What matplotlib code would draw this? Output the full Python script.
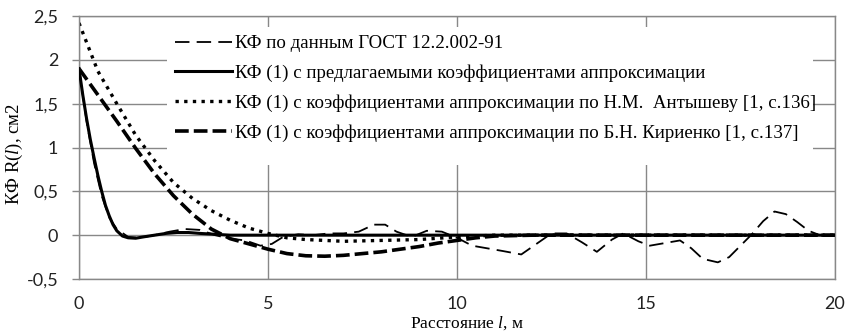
import matplotlib
matplotlib.use("Agg")
import matplotlib.pyplot as plt
from matplotlib.patches import Rectangle

plt.rcParams["mathtext.fontset"] = "custom"
plt.rcParams["mathtext.rm"] = "Liberation Serif"
plt.rcParams["mathtext.it"] = "Liberation Serif:italic"

# ГОСТ 12.2.002-91 data
x_gost = [0, 0.2, 0.4, 0.6, 0.8, 1.0, 1.3, 1.6, 2.0, 2.4, 2.8, 3.2, 3.6, 4.0, 4.4,
          4.8, 5.1, 5.4, 5.8, 6.2, 6.6, 7.0, 7.4, 7.8, 8.1, 8.4, 8.8, 9.2, 9.6,
          10.0, 10.4, 10.8, 11.2, 11.7, 12.1, 12.5, 12.9, 13.3, 13.7, 14.1, 14.4,
          14.8, 15.1, 15.5, 15.9, 16.2, 16.5, 16.9, 17.2, 17.5, 17.8, 18.1, 18.4,
          18.7, 19.0, 19.3, 19.6, 20.0]
y_gost = [1.9, 1.3, 0.82, 0.45, 0.2, 0.07, -0.02, -0.03, 0.0, 0.04, 0.07, 0.06, 0.0,
          -0.04, -0.06, -0.12, -0.1, -0.02, 0.01, 0.0, 0.02, 0.02, 0.04, 0.12, 0.12,
          0.04, -0.02, 0.05, 0.04, -0.03, -0.12, -0.15, -0.18, -0.22, -0.1, 0.02,
          0.02, -0.08, -0.19, -0.05, 0.02, -0.07, -0.12, -0.09, -0.06, -0.15, -0.27,
          -0.31, -0.25, -0.12, 0.01, 0.16, 0.27, 0.24, 0.15, 0.05, 0.0, 0.0]

# KF (1), proposed coefficients
x_prop = [0, 0.1, 0.2, 0.3, 0.4, 0.5, 0.6, 0.7, 0.8, 0.9, 1.0, 1.15, 1.3, 1.5, 1.7,
          2.0, 2.3, 2.6, 2.9, 3.2, 3.6, 4.0, 5, 6, 8, 10, 12, 14, 16, 18, 20]
y_prop = [1.9, 1.6, 1.33, 1.09, 0.88, 0.68, 0.5, 0.34, 0.22, 0.12, 0.05, -0.01,
          -0.03, -0.035, -0.02, 0.0, 0.02, 0.03, 0.03, 0.02, 0.01, 0.0, 0, 0, 0,
          0, 0, 0, 0, 0, 0]

# KF (1), Antyshev coefficients
x_ant = [0, 0.5, 1.0, 1.5, 2.0, 2.5, 3.0, 3.5, 4.0, 4.5, 5.0, 5.5, 6, 7, 8, 9, 10,
         11, 12, 14, 16, 18, 20]
y_ant = [2.42, 1.87, 1.5, 1.14, 0.85, 0.6, 0.42, 0.28, 0.17, 0.08, 0.02, -0.03,
         -0.05, -0.07, -0.06, -0.05, -0.02, 0, 0, 0, 0, 0, 0]

# KF (1), Kirienko coefficients
x_kir = [0, 0.5, 1.0, 1.5, 2.0, 2.5, 3.0, 3.5, 4.0, 4.5, 5.0, 5.5, 6.0, 6.5, 7.0,
         7.5, 8.0, 8.5, 9.0, 9.5, 10.0, 10.5, 11.0, 12, 14, 16, 18, 20]
y_kir = [1.9, 1.6, 1.3, 0.99, 0.7, 0.45, 0.24, 0.07, -0.04, -0.1, -0.16, -0.21,
         -0.235, -0.24, -0.23, -0.21, -0.19, -0.16, -0.13, -0.09, -0.06, -0.03,
         -0.01, 0, 0, 0, 0, 0]

labels = ["КФ по данным ГОСТ 12.2.002-91",
          "КФ (1) с предлагаемыми коэффициентами аппроксимации",
          "КФ (1) с коэффициентами аппроксимации по Н.М.  Антышеву [1, с.136]",
          "КФ (1) с коэффициентами аппроксимации по Б.Н. Кириенко [1, с.137]"]

fig = plt.figure(figsize=(8.48, 3.31), dpi=100)
ax = fig.add_axes([79/848, 1 - 279/331, 756/848, 263/331])

grid_c = "#888888"
ax.set_axisbelow(True)
ax.grid(True, color=grid_c, lw=1.0)
for s in ax.spines.values():
    s.set_color(grid_c)
    s.set_linewidth(1.0)

# white legend area hides the grid behind the legend
ax.add_patch(Rectangle((0.1164, 0.433), 0.8545, 0.525, transform=ax.transAxes,
                       facecolor="white", edgecolor="none", zorder=1.5))

l1, = ax.plot(x_gost, y_gost, color="black", lw=1.3, dashes=(8, 4), zorder=2)
l2, = ax.plot(x_prop, y_prop, color="black", lw=2.2, zorder=3)
l3, = ax.plot(x_ant, y_ant, color="black", lw=2.4, dashes=(1, 1.6),
              dash_capstyle="butt", zorder=2)
l4, = ax.plot(x_kir, y_kir, color="black", lw=2.6, dashes=(3.8, 1.4), zorder=2)

ax.set_xlim(0, 20)
ax.set_ylim(-0.5, 2.5)
ax.set_xticks([0, 5, 10, 15, 20])
ax.set_yticks([-0.5, 0, 0.5, 1, 1.5, 2, 2.5])
ax.set_yticklabels(["-0,5", "0", "0,5", "1", "1,5", "2", "2,5"])
ax.tick_params(axis="both", colors=grid_c, labelcolor="#222222", labelsize=13,
               length=5, width=1.0)
ax.tick_params(axis="x", length=0, pad=12)
ax.tick_params(axis="y", pad=10)
for t in ax.get_xticklabels() + ax.get_yticklabels():
    t.set_fontfamily("Lato")

ax.set_ylabel("КФ R($\\mathit{l}$), см2", fontfamily="Liberation Serif", fontsize=13.5)
ax.yaxis.set_label_coords(-0.071, 0.475)
ax.set_xlabel("Расстояние $\\mathit{l}$, м", fontfamily="Liberation Serif", fontsize=12.5)
ax.xaxis.set_label_coords(0.513, -0.135)

leg = ax.legend([l1, l2, l3, l4], labels, loc="upper left",
                bbox_to_anchor=(175/848, 1 - 35/331), bbox_transform=fig.transFigure,
                frameon=False, borderpad=0, borderaxespad=0, handlelength=3.0,
                handletextpad=0.16, labelspacing=0.65,
                prop={"family": "Liberation Serif", "size": 13.6})
leg.set_zorder(5)

fig.savefig("out.png", dpi=100)
